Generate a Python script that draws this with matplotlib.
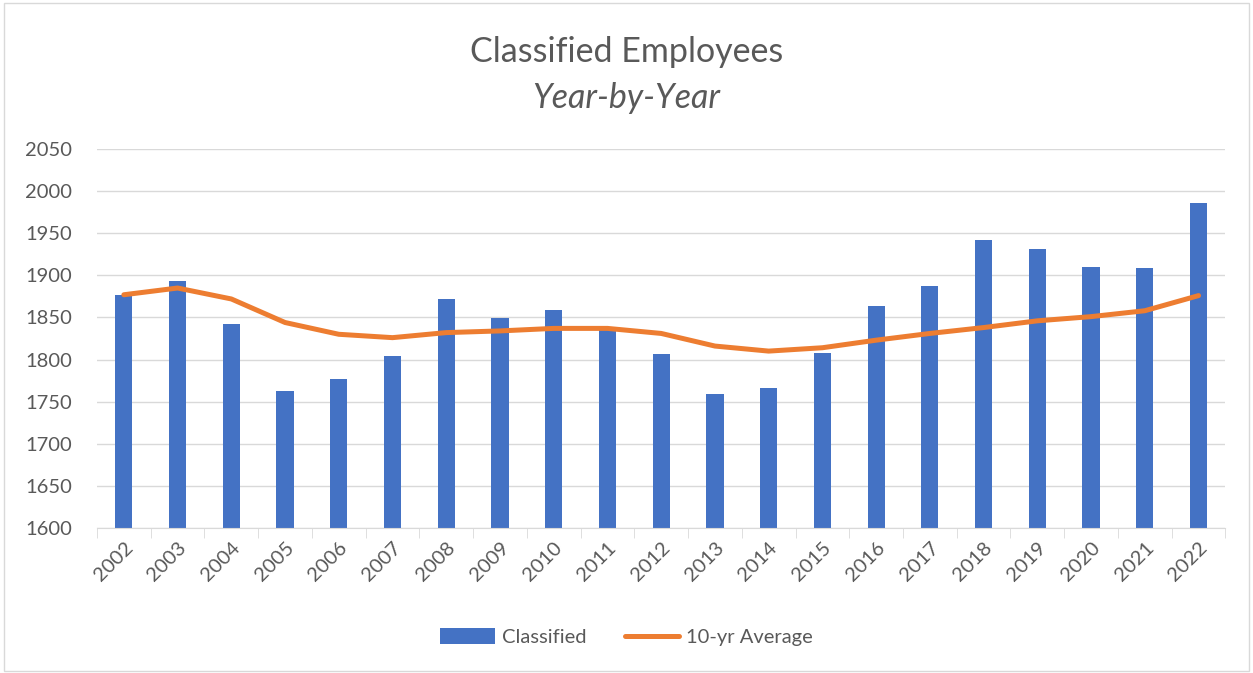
import matplotlib.pyplot as plt
import numpy as np
from matplotlib.patches import Rectangle

plt.rcParams['font.family'] = ['Lato', 'DejaVu Sans']

years = [str(y) for y in range(2002, 2023)]
classified = [1877, 1893, 1842, 1763, 1777, 1804, 1872, 1849, 1859, 1837,
              1807, 1759, 1766, 1808, 1864, 1888, 1942, 1931, 1910, 1909, 1986]
avg_10yr = [1877, 1885, 1872, 1844, 1830, 1826, 1832, 1834, 1837, 1837,
            1831, 1816, 1810, 1814, 1823, 1831, 1838, 1846, 1851, 1858, 1876]

grey = '#595959'
x = np.arange(len(years))

fig = plt.figure(figsize=(12.53, 6.73), dpi=100)
fig.patches.append(Rectangle((0.003, 0.003), 0.994, 0.992, transform=fig.transFigure,
                             fill=False, edgecolor='#d9d9d9', linewidth=1))
ax = fig.add_axes([0.0774, 0.2159, 0.9006, 0.5623])

bars = ax.bar(x, classified, width=0.32, color='#4472C4', label='Classified', zorder=2)
line, = ax.plot(x, avg_10yr, color='#ED7D31', linewidth=3.6, solid_capstyle='round',
                label='10-yr Average', zorder=3)

ax.set_ylim(1600, 2050)
ax.set_xlim(-0.5, len(years) - 0.5)
ax.set_yticks(np.arange(1600, 2051, 50))
ax.yaxis.grid(True, color='#d9d9d9', linewidth=1)
ax.set_axisbelow(True)
for s in ['top', 'right', 'left']:
    ax.spines[s].set_visible(False)
ax.spines['bottom'].set_color('#d9d9d9')
ax.tick_params(axis='y', length=0, labelsize=14.5, labelcolor=grey, pad=18)
ax.set_xticks(x)
ax.set_xticklabels(years, rotation=45, ha='right', rotation_mode='anchor')
ax.tick_params(axis='x', which='major', length=0, labelsize=14.5, labelcolor=grey, pad=8)
ax.set_xticks(np.arange(-0.5, len(years), 1), minor=True)
ax.tick_params(axis='x', which='minor', length=7, color='#d9d9d9')

fig.text(0.5, 0.922, 'Classified Employees', ha='center', va='center', fontsize=24.5, color=grey)
fig.text(0.5, 0.855, 'Year-by-Year', ha='center', va='center', fontsize=24.5, color=grey, style='italic')

leg = fig.legend([bars, line], ['Classified', '10-yr Average'], loc='center',
                 bbox_to_anchor=(0.5, 0.053), ncol=2, frameon=False,
                 fontsize=14.5, handlelength=2.7, handleheight=0.8, columnspacing=1.9,
                 handletextpad=0.35)
for t in leg.get_texts():
    t.set_color(grey)

fig.savefig('out.png', dpi=100)
